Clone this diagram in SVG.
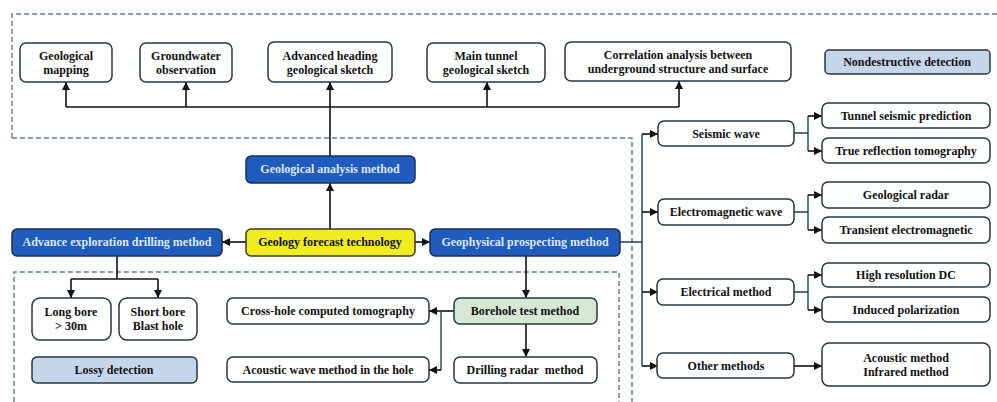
<svg xmlns="http://www.w3.org/2000/svg" width="997" height="402" viewBox="0 0 997 402">
<style>
.b{fill:#fff;stroke:#243746;stroke-width:1.5}
.blue{fill:#1f5cbd;stroke:#1a2f55;stroke-width:1.5}
.yel{fill:#f0ec1e;stroke:#3a3a20;stroke-width:1.5}
.lb{fill:#c6d6ea;stroke:#243746;stroke-width:1.5}
.gr{fill:#d6e8d2;stroke:#243746;stroke-width:1.5}
text{font-family:"Liberation Serif","Times New Roman",serif;font-weight:bold;font-size:12px;fill:#111;text-anchor:middle}
text.w{fill:#dde7f7}
.dash{fill:none;stroke:#5d7f8e;stroke-width:1.4;stroke-dasharray:5,3}
.c{fill:none;stroke:#111;stroke-width:1.6}
.t{fill:none;stroke:#1d4250;stroke-width:1.4}
</style>
<defs>
<marker id="a" markerUnits="userSpaceOnUse" markerWidth="9" markerHeight="8" refX="8" refY="4" orient="auto">
<path d="M0,0 L8,4 L0,8 z" fill="#111"/>
</marker>
</defs>
<g id="regions">
<path class="dash" d="M12,138 L12,14 L997,14"/>
<path class="dash" d="M12,138 L632,138 L632,402"/>
<path class="dash" d="M14,402 L14,272 L619,272 L619,402"/>
</g>
<g id="connectors">
<path class="c" d="M330,229 L330,183" marker-end="url(#a)"/>
<path class="c" d="M330,156 L330,82" marker-end="url(#a)"/>
<path class="c" d="M66,107 L679,107"/>
<path class="c" d="M66,107 L66,82" marker-end="url(#a)"/>
<path class="c" d="M186,107 L186,82" marker-end="url(#a)"/>
<path class="c" d="M487,107 L487,82" marker-end="url(#a)"/>
<path class="c" d="M679,107 L679,81" marker-end="url(#a)"/>
<path class="c" d="M246,242 L222,242" marker-end="url(#a)"/>
<path class="c" d="M415,242 L430,242" marker-end="url(#a)"/>
<path class="t" d="M620,242 L642,242 M642,134 L642,366"/>
<path class="c" d="M642,134 L658,134" marker-end="url(#a)"/>
<path class="c" d="M642,212 L658,212" marker-end="url(#a)"/>
<path class="c" d="M642,292 L658,292" marker-end="url(#a)"/>
<path class="c" d="M642,366 L658,366" marker-end="url(#a)"/>
<path class="t" d="M794,133 L808,133 M808,116 L808,151 M794,212 L808,212 M808,195 L808,230 M794,292 L808,292 M808,275 L808,310"/>
<path class="c" d="M808,116 L822,116" marker-end="url(#a)"/>
<path class="c" d="M808,151 L822,151" marker-end="url(#a)"/>
<path class="c" d="M808,195 L822,195" marker-end="url(#a)"/>
<path class="c" d="M808,230 L822,230" marker-end="url(#a)"/>
<path class="c" d="M808,275 L822,275" marker-end="url(#a)"/>
<path class="c" d="M808,310 L822,310" marker-end="url(#a)"/>
<path class="c" d="M794,366 L822,366" marker-end="url(#a)"/>
<path class="c" d="M117,256 L117,279 M71,279 L158,279"/>
<path class="c" d="M71,279 L71,298" marker-end="url(#a)"/>
<path class="c" d="M158,279 L158,298" marker-end="url(#a)"/>
<path class="c" d="M526,256 L526,298" marker-end="url(#a)"/>
<path class="c" d="M526,324 L526,357" marker-end="url(#a)"/>
<path class="c" d="M454,311 L429,311" marker-end="url(#a)"/>
<path class="t" d="M441,311 L441,370"/>
<path class="c" d="M441,370 L429,370" marker-end="url(#a)"/>
</g>
<g id="geological-mapping"><rect class="b" x="20" y="43" width="92" height="39" rx="6"/><text x="66" y="60">Geological</text><text x="66" y="74">mapping</text></g>
<g id="groundwater"><rect class="b" x="140" y="43" width="92" height="39" rx="6"/><text x="186" y="60">Groundwater</text><text x="186" y="74">observation</text></g>
<g id="advanced-heading"><rect class="b" x="268" y="42" width="124" height="40" rx="6"/><text x="330" y="60">Advanced heading</text><text x="330" y="74">geological sketch</text></g>
<g id="main-tunnel"><rect class="b" x="427" y="43" width="118" height="39" rx="6"/><text x="486" y="60">Main tunnel</text><text x="486" y="74">geological sketch</text></g>
<g id="correlation"><rect class="b" x="565" y="42" width="226" height="39" rx="6"/><text x="678" y="59">Correlation analysis between</text><text x="678" y="73">underground structure and surface</text></g>
<g id="nondestructive"><rect class="lb" x="825" y="50" width="165" height="24" rx="4"/><text x="907" y="66">Nondestructive detection</text></g>
<g id="geological-analysis"><rect class="blue" x="246" y="156" width="169" height="27" rx="5"/><text class="w" x="330" y="173">Geological analysis method</text></g>
<g id="geology-forecast"><rect class="yel" x="246" y="229" width="169" height="27" rx="5"/><text x="330" y="246">Geology forecast technology</text></g>
<g id="advance-exploration"><rect class="blue" x="12" y="229" width="210" height="27" rx="5"/><text class="w" x="117" y="246">Advance exploration drilling method</text></g>
<g id="geophysical"><rect class="blue" x="430" y="229" width="190" height="27" rx="5"/><text class="w" x="525" y="246">Geophysical prospecting method</text></g>
<g id="seismic-wave"><rect class="b" x="658" y="121" width="136" height="25" rx="6"/><text x="726" y="138">Seismic wave</text></g>
<g id="em-wave"><rect class="b" x="658" y="199" width="136" height="26" rx="6"/><text x="726" y="216">Electromagnetic wave</text></g>
<g id="electrical"><rect class="b" x="657" y="279" width="137" height="26" rx="6"/><text x="726" y="296">Electrical method</text></g>
<g id="other"><rect class="b" x="657" y="353" width="137" height="25" rx="6"/><text x="726" y="370">Other methods</text></g>
<g id="tsp"><rect class="b" x="822" y="103" width="168" height="25" rx="6"/><text x="906" y="120">Tunnel seismic prediction</text></g>
<g id="trt"><rect class="b" x="822" y="138" width="168" height="25" rx="6"/><text x="906" y="155">True reflection tomography</text></g>
<g id="radar"><rect class="b" x="822" y="182" width="168" height="26" rx="6"/><text x="906" y="199">Geological radar</text></g>
<g id="tem"><rect class="b" x="822" y="217" width="168" height="26" rx="6"/><text x="906" y="234">Transient electromagnetic</text></g>
<g id="hrdc"><rect class="b" x="822" y="263" width="168" height="24" rx="6"/><text x="906" y="279">High resolution DC</text></g>
<g id="ip"><rect class="b" x="822" y="297" width="168" height="25" rx="6"/><text x="906" y="314">Induced polarization</text></g>
<g id="acoustic-infrared"><rect class="b" x="822" y="343" width="168" height="43" rx="7"/><text x="906" y="362">Acoustic method</text><text x="906" y="376">Infrared method</text></g>
<g id="long-bore"><rect class="b" x="32" y="298" width="79" height="42" rx="8"/><text x="71" y="316">Long bore</text><text x="71" y="330">&gt; 30m</text></g>
<g id="short-bore"><rect class="b" x="119" y="298" width="78" height="42" rx="8"/><text x="158" y="316">Short bore</text><text x="158" y="330">Blast hole</text></g>
<g id="lossy"><rect class="lb" x="32" y="357" width="165" height="26" rx="5"/><text x="114" y="374">Lossy detection</text></g>
<g id="cross-hole"><rect class="b" x="227" y="298" width="202" height="26" rx="6"/><text x="328" y="315">Cross-hole computed tomography</text></g>
<g id="acoustic-hole"><rect class="b" x="227" y="357" width="202" height="25" rx="6"/><text x="328" y="374">Acoustic wave method in the hole</text></g>
<g id="borehole"><rect class="gr" x="454" y="298" width="143" height="26" rx="6"/><text x="525" y="315">Borehole test method</text></g>
<g id="drilling-radar"><rect class="b" x="454" y="357" width="143" height="26" rx="6"/><text x="525" y="374">Drilling radar&#160; method</text></g>
</svg>
